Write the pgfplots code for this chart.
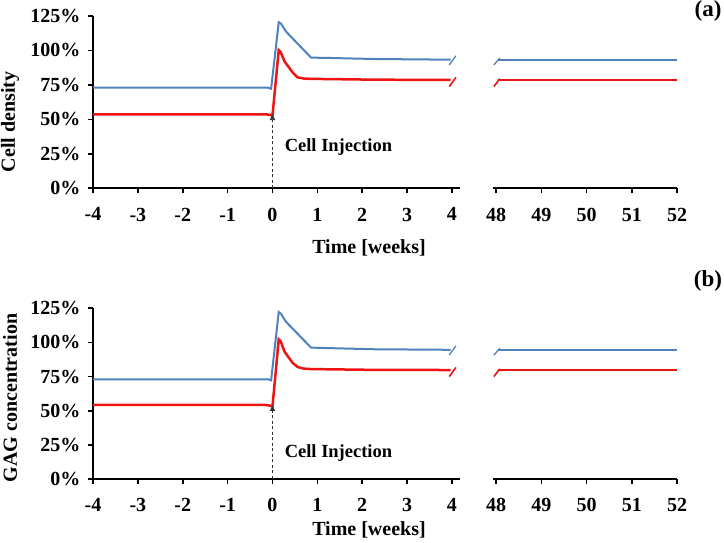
\documentclass[border=0pt]{standalone}
\usepackage{fontspec}
\setmainfont{Liberation Serif}
\usepackage{pgfplots}
\pgfplotsset{compat=1.18}
\usetikzlibrary{arrows.meta}
\definecolor{cblue}{RGB}{79,129,189}
\definecolor{cred}{RGB}{238,20,20}
\pgfplotsset{
  common/.style={scale only axis, anchor=south west, clip=false,
    ymin=0, ymax=125,
    axis line style={line width=2pt,-, black},
    tick style={line width=1.6pt, black},
    major tick length=5pt, tick align=outside,
    ticklabel style={font=\fontsize{20}{20}\selectfont\bfseries},
    xticklabel style={yshift=-11pt},
    yticklabel style={xshift=-4pt},
  },
  leftax/.style={common, width=367pt, xmin=-4, xmax=4.18,
    axis x line*=bottom, axis y line*=left,
    xtick={-4,-3,-2,-1,0,1,2,3,4},
    xticklabels={-4,-3,-2,-1,0,1,2,3,4},
    ytick={0,25,50,75,100,125},
    yticklabels={0\%,25\%,50\%,75\%,100\%,125\%},
  },
  rightax/.style={common, width=184pt, xmin=47.93, xmax=52,
    axis x line*=bottom, axis y line=none,
    xtick={48,49,50,51,52},
    xticklabels={\raisebox{3pt}{48},\raisebox{3pt}{49},50,51,52},
  },
  bl/.style={color=cblue, line width=2pt, no marks},
  rd/.style={color=cred, line width=2.5pt, no marks},
  blm/.style={color=cblue, line width=1.3pt, no marks},
  rdm/.style={color=cred, line width=1.6pt, no marks},
}
\begin{document}
\begin{tikzpicture}[x=1pt,y=1pt]
\useasboundingbox (0,0) rectangle (724,543);
% ---------- panel (a) ----------
\begin{axis}[leftax, at={(93pt,354.7pt)}, height=172.3pt]
\addplot[bl] coordinates {(-4,73.0) (-0.2,73.0) (-0.1,73.0) (-0.03,72.2) (0.14,120.5) (0.19,119.5) (0.3,113.8) (0.86,94.8) (1.2,94.6) (2.27,93.8) (3.97,93.3)};
\addplot[rd] coordinates {(-4,53.7) (-0.15,53.7) (-0.05,53.2) (0,52.6) (0.14,100.3) (0.18,99) (0.27,92) (0.45,84) (0.56,80.5) (0.7,79.6) (0.86,79.4) (2.27,78.8) (3.97,78.6)};
\addplot[blm] coordinates {(3.94,89.5) (4.09,96.2)};
\addplot[rdm] coordinates {(3.94,73.8) (4.09,80.5)};
\draw[dash pattern=on 3pt off 2.5pt, line width=0.8pt, black!80, -{Latex[length=6pt,width=6pt]}] (axis cs:0,0) -- (axis cs:0,53.8);
\node[anchor=base west, font=\fontsize{18.5}{18.5}\selectfont\bfseries, inner sep=0pt] at (axis cs:0.27,26.5) {Cell Injection};
\end{axis}
\begin{axis}[rightax, at={(493pt,354.7pt)}, height=172.3pt]
\addplot[bl] coordinates {(48.03,93.3) (52,93.3)};
\addplot[rd] coordinates {(48.03,78.6) (52,78.6)};
\addplot[blm] coordinates {(47.95,89.5) (48.08,94.5)};
\addplot[rdm] coordinates {(47.95,73.8) (48.08,79.5)};
\end{axis}
% ---------- panel (b) ----------
\begin{axis}[leftax, at={(93pt,64pt)}, height=170.7pt]
\addplot[bl] coordinates {(-4,73.0) (-0.2,73.0) (-0.1,73.0) (-0.03,72.3) (0.14,122.3) (0.19,121) (0.3,115.2) (0.86,96.2) (1.2,95.9) (2.27,95.0) (3.97,94.6)};
\addplot[rd] coordinates {(-4,54.2) (-0.15,54.2) (-0.05,53.7) (0,53.0) (0.14,102.3) (0.18,101) (0.27,93.2) (0.45,85) (0.56,82) (0.7,80.8) (0.86,80.5) (2.27,79.9) (3.97,79.8)};
\addplot[blm] coordinates {(3.94,90.8) (4.09,97.5)};
\addplot[rdm] coordinates {(3.94,75.0) (4.09,81.7)};
\draw[dash pattern=on 3pt off 2.5pt, line width=0.8pt, black!80, -{Latex[length=6pt,width=6pt]}] (axis cs:0,0) -- (axis cs:0,54.2);
\node[anchor=base west, font=\fontsize{18.5}{18.5}\selectfont\bfseries, inner sep=0pt] at (axis cs:0.27,15.9) {Cell Injection};
\end{axis}
\begin{axis}[rightax, at={(493pt,64pt)}, height=170.7pt]
\addplot[bl] coordinates {(48.03,94.5) (52,94.5)};
\addplot[rd] coordinates {(48.03,79.8) (52,79.8)};
\addplot[blm] coordinates {(47.95,90.7) (48.08,95.7)};
\addplot[rdm] coordinates {(47.95,75.0) (48.08,80.7)};
\end{axis}
% ---------- labels ----------
\node[rotate=90, font=\fontsize{20}{20}\selectfont\bfseries] at (10,421) {Cell density};
\node[rotate=90, font=\fontsize{20}{20}\selectfont\bfseries] at (10,145) {GAG concentration};
\node[font=\fontsize{20}{20}\selectfont\bfseries] at (369,295) {Time [weeks]};
\node[font=\fontsize{20}{20}\selectfont\bfseries] at (369,13) {Time [weeks]};
\node[font=\fontsize{23}{23}\selectfont\bfseries] at (708,532) {(a)};
\node[font=\fontsize{23}{23}\selectfont\bfseries] at (708,262) {(b)};
\end{tikzpicture}
\end{document}
